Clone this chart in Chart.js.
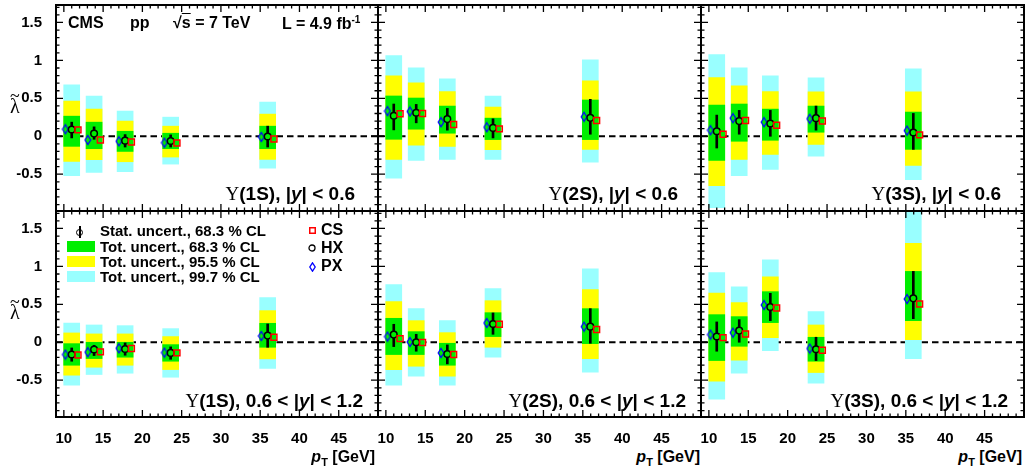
<!DOCTYPE html>
<html>
<head>
<meta charset="utf-8">
<title>Upsilon lambda-tilde vs pT</title>
<script src="https://cdn.jsdelivr.net/npm/chart.js@4.4.1/dist/chart.umd.min.js"></script>
<style>
	html, body { margin: 0; padding: 0; background: #fff; }
	#figura { position: relative; width: 1027px; height: 473px; overflow: hidden;
		font-family: "Liberation Sans", Arial, sans-serif; font-weight: bold; color: #000; }
	#figura canvas { position: absolute; z-index: 1; }
	.txt { position: absolute; white-space: nowrap; line-height: 1; z-index: 2; }
	.serif { font-family: "Liberation Serif", "Times New Roman", serif; font-weight: normal; }
	.etiqueta { font-size: 19px; }
	.ley { font-size: 15px; }
	.marco { font-size: 16px; }
	.cab { font-size: 16px; }
	.xtitulo { font-size: 16px; }
	.xtitulo sub { font-size: 11px; vertical-align: -4px; }
	.sw { position: absolute; width: 28px; height: 11px; z-index: 2; }
	.marca { position: absolute; z-index: 2; }
</style>
</head>
<body>
<div id="figura">
	<!-- cabecera -->
	<div class="txt cab" style="left:68px; top:15px">CMS</div>
	<div class="txt cab" style="left:130px; top:15px">pp</div>
	<div class="txt cab" style="left:173px; top:15px">&radic;<span style="text-decoration:overline">s</span> = 7 TeV</div>
	<div class="txt cab" style="left:282px; top:15px">L = 4.9 fb<sup style="font-size:10px">-1</sup></div>

	<!-- etiquetas de cada panel -->
	<div class="txt etiqueta" style="right:672px; top:184px"><span class="serif">&Upsilon;</span>(1S), |<i>y</i>| &lt; 0.6</div>
	<div class="txt etiqueta" style="right:349px; top:184px"><span class="serif">&Upsilon;</span>(2S), |<i>y</i>| &lt; 0.6</div>
	<div class="txt etiqueta" style="right:26px; top:184px"><span class="serif">&Upsilon;</span>(3S), |<i>y</i>| &lt; 0.6</div>
	<div class="txt etiqueta" style="right:664px; top:391px"><span class="serif">&Upsilon;</span>(1S), 0.6 &lt; |<i>y</i>| &lt; 1.2</div>
	<div class="txt etiqueta" style="right:341px; top:391px"><span class="serif">&Upsilon;</span>(2S), 0.6 &lt; |<i>y</i>| &lt; 1.2</div>
	<div class="txt etiqueta" style="right:19px; top:391px"><span class="serif">&Upsilon;</span>(3S), 0.6 &lt; |<i>y</i>| &lt; 1.2</div>

	<!-- titulos de ejes -->
	<div class="txt serif" style="left:10px; top:96px; font-size:20px">&lambda;</div>
	<div class="txt serif" style="left:10px; top:87px; font-size:18px">~</div>
	<div class="txt serif" style="left:10px; top:302px; font-size:20px">&lambda;</div>
	<div class="txt serif" style="left:10px; top:293px; font-size:18px">~</div>
	<div class="txt xtitulo" style="right:652px; top:449px"><i>p</i><sub>T</sub> [GeV]</div>
	<div class="txt xtitulo" style="right:327px; top:449px"><i>p</i><sub>T</sub> [GeV]</div>
	<div class="txt xtitulo" style="right:5px; top:449px"><i>p</i><sub>T</sub> [GeV]</div>

	<!-- leyenda de incertidumbres -->
	<div class="marca" style="left:79px; top:226px; width:2px; height:12px; background:#000"></div>
	<div class="marca" style="left:76px; top:229px; width:5px; height:5px; border:1.5px solid #000; border-radius:50%"></div>
	<div class="sw" style="left:67px; top:241px; background:#00ee00"></div>
	<div class="sw" style="left:67px; top:256px; background:#ffff00"></div>
	<div class="sw" style="left:67px; top:271px; background:#99ffff"></div>
	<div class="txt ley" style="left:100px; top:223px">Stat. uncert., 68.3 % CL</div>
	<div class="txt ley" style="left:100px; top:239px">Tot. uncert., 68.3 % CL</div>
	<div class="txt ley" style="left:100px; top:254px">Tot. uncert., 95.5 % CL</div>
	<div class="txt ley" style="left:100px; top:269px">Tot. uncert., 99.7 % CL</div>

	<!-- leyenda de sistemas de referencia -->
	<svg class="marca" style="left:309px; top:227px" width="7" height="7"><rect x="0.75" y="0.75" width="5.5" height="5.5" fill="none" stroke="#ff0000" stroke-width="1.5"/></svg>
	<svg class="marca" style="left:308px; top:244px" width="8" height="8"><circle cx="4" cy="4" r="3" fill="none" stroke="#000" stroke-width="1.3"/></svg>
	<svg class="marca" style="left:309px; top:262px" width="7" height="10"><path d="M3.5 0.8 L6.2 5 L3.5 9.2 L0.8 5 Z" fill="none" stroke="#0000ff" stroke-width="1.3"/></svg>
	<div class="txt marco" style="left:321px; top:222px">CS</div>
	<div class="txt marco" style="left:321px; top:240px">HX</div>
	<div class="txt marco" style="left:321px; top:258px">PX</div>
</div>

<script>
// pT medio de cada bin (HX) y el desplazamiento con que se dibujan PX y CS
var hxPt = [11.0, 13.85, 17.8, 23.6, 35.95];
var pxPt = [10.2, 13.05, 17.0, 22.8, 35.15];
var csPt = [11.8, 14.65, 18.6, 24.4, 36.75];

var xTickValues = [10, 15, 20, 25, 30, 35, 40, 45];
var yTickValues = [-0.5, 0, 0.5, 1, 1.5];

// filas: Y(1S), Y(2S), Y(3S) con |y|<0.6, luego las mismas con 0.6<|y|<1.2
var hxVals = [
	[0.09, 0.035, -0.058, -0.062, -0.004],
	[0.27, 0.31, 0.226, 0.11, 0.243],
	[0.066, 0.2, 0.168, 0.239, 0.049],
	[-0.162, -0.096, -0.088, -0.14, 0.088],
	[0.101, 0, -0.154, 0.241, 0.206],
	[0.075, 0.154, 0.465, -0.092, 0.579]
];
var pxVals = [
	[0.093, -0.049, -0.066, -0.084, -0.009],
	[0.332, 0.327, 0.186, 0.119, 0.257],
	[0.08, 0.239, 0.186, 0.23, 0.075],
	[-0.162, -0.13, -0.079, -0.136, 0.083],
	[0.075, 0.004, -0.14, 0.254, 0.206],
	[0.101, 0.127, 0.491, -0.083, 0.57]
];
var csVals = [
	[0.084, -0.049, -0.075, -0.088, -0.035],
	[0.296, 0.3, 0.155, 0.097, 0.208],
	[0.027, 0.208, 0.146, 0.2, 0.018],
	[-0.167, -0.127, -0.083, -0.14, 0.066],
	[0.048, -0.004, -0.162, 0.237, 0.167],
	[0.061, 0.11, 0.452, -0.105, 0.504]
];
var statLo = [
	[-0.022, -0.04, -0.142, -0.142, -0.142],
	[0.084, 0.177, 0.08, -0.022, 0.027],
	[-0.155, 0.027, 0, 0.08, -0.173],
	[-0.25, -0.175, -0.171, -0.224, -0.066],
	[-0.057, -0.118, -0.285, 0.105, -0.013],
	[-0.118, 0, 0.285, -0.241, 0.311]
];
var statHi = [
	[0.186, 0.124, 0.022, 0.018, 0.133],
	[0.425, 0.42, 0.367, 0.23, 0.487],
	[0.279, 0.341, 0.341, 0.398, 0.301],
	[-0.075, -0.04, -0.009, -0.061, 0.241],
	[0.237, 0.105, -0.035, 0.386, 0.443],
	[0.268, 0.298, 0.645, 0.066, 0.934]
];
var cl683Lo = [
	[-0.133, -0.164, -0.2, -0.164, -0.164],
	[-0.04, 0.093, 0.04, -0.044, -0.044],
	[-0.319, -0.066, -0.053, 0.053, -0.173],
	[-0.303, -0.215, -0.197, -0.25, -0.066],
	[-0.162, -0.162, -0.303, 0.075, -0.018],
	[-0.241, -0.053, 0.259, -0.25, 0.285]
];
var cl683Hi = [
	[0.265, 0.186, 0.066, 0.04, 0.133],
	[0.531, 0.504, 0.398, 0.239, 0.478],
	[0.412, 0.425, 0.358, 0.398, 0.319],
	[-0.018, 0, 0, -0.031, 0.25],
	[0.316, 0.14, -0.013, 0.39, 0.443],
	[0.364, 0.338, 0.667, 0.066, 0.934]
];
var cl955Lo = [
	[-0.332, -0.31, -0.336, -0.274, -0.305],
	[-0.305, -0.119, -0.133, -0.177, -0.173],
	[-0.65, -0.305, -0.239, -0.106, -0.385],
	[-0.434, -0.329, -0.303, -0.36, -0.219],
	[-0.36, -0.316, -0.447, -0.066, -0.215],
	[-0.513, -0.237, 0.061, -0.399, 0.035]
];
var cl955Hi = [
	[0.465, 0.358, 0.2, 0.133, 0.292],
	[0.796, 0.704, 0.588, 0.385, 0.73],
	[0.774, 0.664, 0.588, 0.584, 0.584],
	[0.123, 0.11, 0.11, 0.075, 0.417],
	[0.535, 0.285, 0.127, 0.548, 0.693],
	[0.649, 0.522, 0.864, 0.228, 1.303]
];
var cl997Lo = [
	[-0.518, -0.478, -0.465, -0.367, -0.42],
	[-0.553, -0.319, -0.305, -0.305, -0.341],
	[-0.94, -0.518, -0.438, -0.261, -0.571],
	[-0.566, -0.425, -0.408, -0.461, -0.346],
	[-0.566, -0.447, -0.566, -0.197, -0.395],
	[-0.75, -0.408, -0.11, -0.539, -0.215]
];
var cl997Hi = [
	[0.677, 0.531, 0.332, 0.252, 0.451],
	[1.062, 0.903, 0.757, 0.531, 1.009],
	[1.075, 0.903, 0.796, 0.77, 0.889],
	[0.254, 0.228, 0.219, 0.18, 0.588],
	[0.759, 0.443, 0.285, 0.706, 0.969],
	[0.917, 0.732, 1.088, 0.404, 1.8]
];

(function () {
	var X_MIN = 9, X_MAX = 50;
	var Y_MIN = -0.985, Y_MAX = 1.73;
	var PAD = 6, Y_AXIS_W = 56, X_AXIS_H = 30, PANEL_H = 206;
	var panelLefts = [56, 378, 701];
	var panelWidths = [322, 323, 323];
	var panelTops = [5, 211];

	var VERDE = '#00ee00', AMARILLO = '#ffff00', CIAN = '#99ffff';
	var fuenteEje = { family: '"Liberation Sans", Arial, sans-serif', size: 15, weight: 'bold' };

	function rombo() {
		var c = document.createElement('canvas');
		c.width = 8;
		c.height = 12;
		var g = c.getContext('2d');
		g.strokeStyle = '#0000ff';
		g.lineWidth = 1.3;
		g.beginPath();
		g.moveTo(4, 1.5);
		g.lineTo(6.8, 6);
		g.lineTo(4, 10.5);
		g.lineTo(1.2, 6);
		g.closePath();
		g.stroke();
		return c;
	}
	var romboPX = rombo();

	// marco al estilo ROOT: linea de cero, ticks hacia dentro en los cuatro lados
	var marcoRoot = {
		id: 'marcoRoot',
		beforeDatasetsDraw: function (chart) {
			var ctx = chart.ctx, a = chart.chartArea;
			var y0 = chart.scales.y.getPixelForValue(0);
			ctx.save();
			ctx.strokeStyle = '#000';
			ctx.lineWidth = 1.8;
			ctx.setLineDash([6.5, 4]);
			ctx.beginPath();
			ctx.moveTo(a.left, y0);
			ctx.lineTo(a.right, y0);
			ctx.stroke();
			ctx.restore();
		},
		afterDatasetsDraw: function (chart) {
			var ctx = chart.ctx, a = chart.chartArea;
			var xs = chart.scales.x, ys = chart.scales.y;
			var v, k, px, len;
			ctx.save();
			ctx.strokeStyle = '#000';
			ctx.lineWidth = 1.3;
			ctx.beginPath();
			for (v = Math.ceil(xs.min); v <= xs.max; v++) {
				len = v % 5 === 0 ? 7 : 3.5;
				px = xs.getPixelForValue(v);
				ctx.moveTo(px, a.bottom);
				ctx.lineTo(px, a.bottom - len);
				ctx.moveTo(px, a.top);
				ctx.lineTo(px, a.top + len);
			}
			for (k = Math.ceil(ys.min * 10); k <= Math.floor(ys.max * 10); k++) {
				len = k % 5 === 0 ? 7 : 3.5;
				px = ys.getPixelForValue(k / 10);
				ctx.moveTo(a.left, px);
				ctx.lineTo(a.left + len, px);
				ctx.moveTo(a.right, px);
				ctx.lineTo(a.right - len, px);
			}
			ctx.stroke();
			ctx.lineWidth = 2;
			ctx.strokeRect(a.left, a.top, a.right - a.left, a.bottom - a.top);
			ctx.restore();
		}
	};

	function bandas(lo, hi) {
		return hxPt.map(function (x, i) { return { x: x, y: [lo[i], hi[i]] }; });
	}

	function puntos(xs, ys) {
		return xs.map(function (x, i) { return { x: x, y: ys[i] }; });
	}

	// los ticks no estan en los bordes: que las etiquetas no reserven margen extra
	function sinRelleno(s) {
		s.paddingTop = 0;
		s.paddingBottom = 0;
		s.paddingLeft = 0;
		s.paddingRight = 0;
	}

	function crearPanel(p) {
		var col = p % 3, fila = Math.floor(p / 3);
		var conEjeX = fila === 1, conEjeY = col === 0;
		var canvas = document.createElement('canvas');
		var ancho = (conEjeY ? Y_AXIS_W : PAD) + panelWidths[col] + PAD;
		var alto = PAD + PANEL_H + (conEjeX ? X_AXIS_H : PAD);
		canvas.width = ancho;
		canvas.height = alto;
		canvas.style.left = (conEjeY ? 0 : panelLefts[col] - PAD) + 'px';
		canvas.style.top = (panelTops[fila] - PAD) + 'px';
		canvas.style.width = ancho + 'px';
		canvas.style.height = alto + 'px';
		document.getElementById('figura').appendChild(canvas);

		new Chart(canvas, {
			type: 'bar',
			data: {
				datasets: [
					{
						type: 'scatter', label: 'CS', data: puntos(csPt, csVals[p]),
						pointStyle: 'rect', pointRadius: 4.2, borderWidth: 1.5,
						borderColor: '#ff0000', backgroundColor: 'rgba(0,0,0,0)', order: 0
					},
					{
						type: 'scatter', label: 'HX', data: puntos(hxPt, hxVals[p]),
						pointStyle: 'circle', pointRadius: 3.3, borderWidth: 1.5,
						borderColor: '#000', backgroundColor: VERDE, order: 0
					},
					{
						type: 'scatter', label: 'PX', data: puntos(pxPt, pxVals[p]),
						pointStyle: romboPX, order: 0
					},
					{
						label: 'Stat. uncert., 68.3 % CL', data: bandas(statLo[p], statHi[p]),
						backgroundColor: '#000', barThickness: 2, grouped: false, order: 1
					},
					{
						label: 'Tot. uncert., 68.3 % CL', data: bandas(cl683Lo[p], cl683Hi[p]),
						backgroundColor: VERDE, barThickness: 16, grouped: false, order: 2
					},
					{
						label: 'Tot. uncert., 95.5 % CL', data: bandas(cl955Lo[p], cl955Hi[p]),
						backgroundColor: AMARILLO, barThickness: 16, grouped: false, order: 3
					},
					{
						label: 'Tot. uncert., 99.7 % CL', data: bandas(cl997Lo[p], cl997Hi[p]),
						backgroundColor: CIAN, barThickness: 16, grouped: false, order: 4
					}
				]
			},
			options: {
				responsive: false,
				animation: false,
				devicePixelRatio: 1,
				events: [],
				layout: {
					padding: { left: conEjeY ? 0 : PAD, right: PAD, top: PAD, bottom: conEjeX ? 0 : PAD }
				},
				plugins: { legend: { display: false }, tooltip: { enabled: false } },
				scales: {
					x: {
						type: 'linear', min: X_MIN, max: X_MAX, offset: false,
						display: conEjeX,
						grid: { display: false }, border: { display: false },
						afterBuildTicks: function (s) { s.ticks = xTickValues.map(function (v) { return { value: v }; }); },
						afterFit: function (s) {
							s.height = conEjeX ? X_AXIS_H : 0;
							sinRelleno(s);
						},
						ticks: {
							color: '#000', font: fuenteEje, padding: 5, maxRotation: 0, autoSkip: false,
							callback: function (v) { return String(v); }
						}
					},
					y: {
						type: 'linear', min: Y_MIN, max: Y_MAX,
						display: conEjeY,
						grid: { display: false }, border: { display: false },
						afterBuildTicks: function (s) { s.ticks = yTickValues.map(function (v) { return { value: v }; }); },
						afterFit: function (s) {
							s.width = conEjeY ? Y_AXIS_W : 0;
							sinRelleno(s);
						},
						ticks: {
							color: '#000', font: fuenteEje, padding: 6, autoSkip: false,
							callback: function (v) { return String(v); }
						}
					}
				}
			},
			plugins: [marcoRoot]
		});
	}

	for (var p = 0; p < 6; p++) {
		crearPanel(p);
	}
})();
</script>
</body>
</html>
